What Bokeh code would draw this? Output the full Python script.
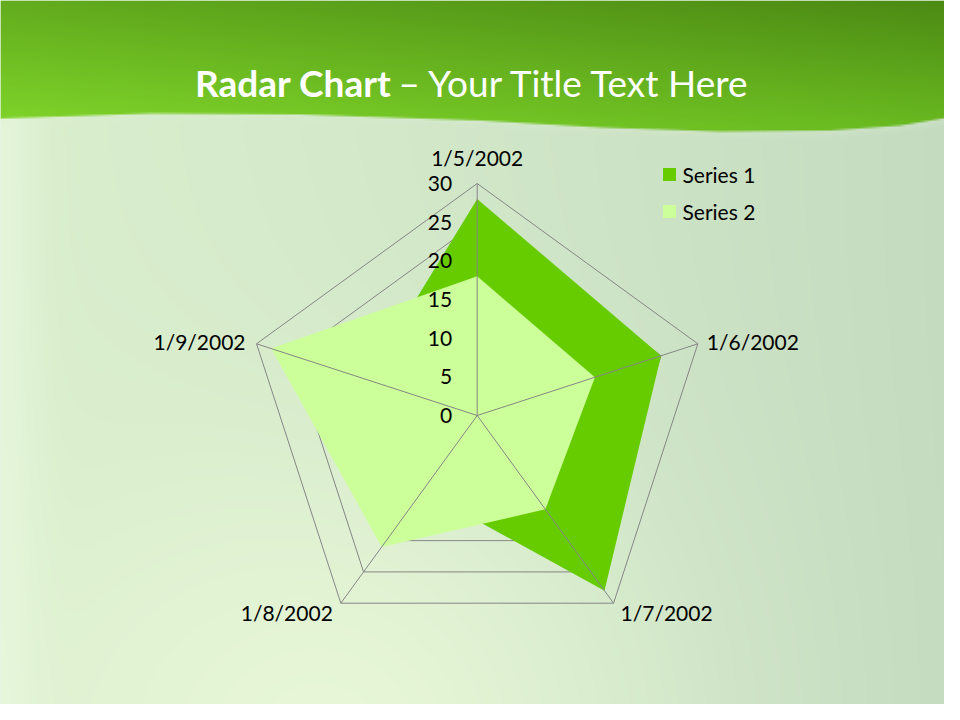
import numpy as np
from bokeh.plotting import figure
from bokeh.models import Range1d
from bokeh.core.properties import value
from bokeh.embed import file_html
from bokeh.resources import INLINE

# ---------------- data ----------------
categories = ["1/5/2002", "1/6/2002", "1/7/2002", "1/8/2002", "1/9/2002"]
series1 = [28, 25, 28, 12, 15]
series2 = [18, 16, 15, 21, 28]
series_names = ["Series 1", "Series 2"]
ticks = [0, 5, 10, 15, 20, 25, 30]
tick_labels = ["0", "5", "10", "15", "20", "25", "30"]
r_max = 30

# ---------------- styling / geometry ----------------
C1 = "#66CC00"
C2 = "#CCFF99"
GRID = "#868686"
FONT = "Lato"

S = 232.0 / r_max          # pixels per unit
CX, CY = 476.7, 415.0      # chart centre in page pixels


def px(X):
    return (X - CX) / S


def py(Y):
    return (CY - Y) / S


n = len(categories)
ang = np.pi / 2 - 2 * np.pi * np.arange(n) / n


def polar(vals):
    v = np.asarray(vals, dtype=float)
    return list(v * np.cos(ang)), list(v * np.sin(ang))


p = figure(width=944, height=704,
           x_range=Range1d(px(0), px(944)), y_range=Range1d(py(704), py(0)),
           output_backend="svg", toolbar_location=None, min_border=0)
p.min_border_left = p.min_border_right = p.min_border_top = p.min_border_bottom = 0
p.axis.visible = False
p.grid.visible = False
p.outline_line_color = None
p.background_fill_color = "#D2E9C8"
p.border_fill_color = "#D2E9C8"

# ---------------- background (slide) ----------------
W, H = 480, 360
Xs = (np.arange(W) + 0.5) * 960 / W
Ys = 720 - (np.arange(H) + 0.5) * 720 / H   # row 0 = bottom
XX, YY = np.meshgrid(Xs, Ys)


def hexc(h):
    h = h.lstrip("#")
    return np.array([int(h[i:i + 2], 16) for i in (0, 2, 4)], dtype=float)


def lerp(a, b, t):
    t = np.clip(t, 0, 1)[..., None]
    return a * (1 - t) + b * t


xn = XX / 960.0
body = lerp(hexc("#D9EECD"), hexc("#C4DBC0"), xn ** 1.3)
g1 = np.exp(-(((XX - 330) / 330.0) ** 2 + ((YY - 740) / 300.0) ** 2))
body = lerp(body, hexc("#EAF9DA"), 0.85 * g1)
g2 = np.exp(-((XX / 40.0) ** 2))
body = lerp(body, hexc("#EEFBE4"), 0.5 * g2)

ctop = lerp(hexc("#62AC1E"), hexc("#4C8A14"), xn)
cbot = lerp(hexc("#80D52A"), hexc("#68B820"), xn)
head = lerp(ctop, cbot, YY / 125.0)

wx = [0, 150, 300, 480, 600, 720, 830, 900, 960]
wy = [118, 113, 114, 120, 127, 131, 130, 125, 115]
wave = np.interp(XX, wx, wy)
cov = np.clip((wave - YY) / 2.0 + 0.5, 0, 1)
hl = np.exp(-((YY - wave - 2) / 4.0) ** 2) * (YY > wave)
body = lerp(body, hexc("#E0F1D6"), 0.2 * hl)
col = lerp(body, head, cov)

rgba = np.zeros((H, W), dtype=np.uint32)
view = rgba.view(dtype=np.uint8).reshape((H, W, 4))
view[..., 0] = col[..., 0].astype(np.uint8)
view[..., 1] = col[..., 1].astype(np.uint8)
view[..., 2] = col[..., 2].astype(np.uint8)
view[..., 3] = 255
p.image_rgba(image=[rgba], x=px(0), y=py(720), dw=960 / S, dh=720 / S)

# ---------------- radar grid rings (behind fills) ----------------
ring_xs, ring_ys = [], []
for t in ticks[1:]:
    rx, ry = polar([t] * n)
    ring_xs.append(rx + [rx[0]])
    ring_ys.append(ry + [ry[0]])
p.multi_line(ring_xs, ring_ys, line_color=GRID, line_width=1)

# ---------------- series fills ----------------
x1, y1 = polar(series1)
x2, y2 = polar(series2)
p.patch(x1, y1, fill_color=C1, line_color=None)
p.patch(x2, y2, fill_color=C2, line_color=None)

# ---------------- spokes (on top) ----------------
ox, oy = polar([r_max] * n)
p.segment(x0=[0] * n, y0=[0] * n, x1=ox, y1=oy, line_color=GRID, line_width=1)

# ---------------- value tick labels ----------------
p.text(x=[-25 / S] * len(ticks), y=ticks, text=tick_labels,
       text_align="right", text_baseline="middle",
       text_font=value(FONT), text_font_size="21px", text_color="#000000")

# ---------------- category labels ----------------
offs = [(0, -26, "center"), (9, -2, "left"), (7, 9, "left"),
        (-8, 9, "right"), (-11, -2, "right")]
for i, cat in enumerate(categories):
    dx, dy, al = offs[i]
    p.text(x=[ox[i] + dx / S], y=[oy[i] - dy / S], text=[cat],
           text_align=al, text_baseline="middle",
           text_font=value(FONT), text_font_size="21px", text_color="#000000")

# ---------------- legend ----------------
leg_y = [174, 211]
for name, c, ly in zip(series_names, [C1, C2], leg_y):
    p.rect(x=[px(669)], y=[py(ly)], width=13 / S, height=13 / S,
           fill_color=c, line_color=None)
    p.text(x=[px(682)], y=[py(ly)], text=[name], text_align="left",
           text_baseline="middle", text_font=value(FONT),
           text_font_size="21px", text_color="#000000")

# ---------------- title ----------------
p.text(x=[px(391)], y=[py(82)], text=["Radar Chart"], text_align="right",
       text_baseline="middle", text_font=value(FONT),
       text_font_style="bold", text_font_size="37px", text_color="#FFFFFF")
p.text(x=[px(398)], y=[py(82)], text=["\u2013 Your Title Text Here"],
       text_align="left", text_baseline="middle", text_font=value(FONT),
       text_font_size="37px", text_color="#FFFFFF")

open("out.html", "w").write(file_html(p, INLINE))
